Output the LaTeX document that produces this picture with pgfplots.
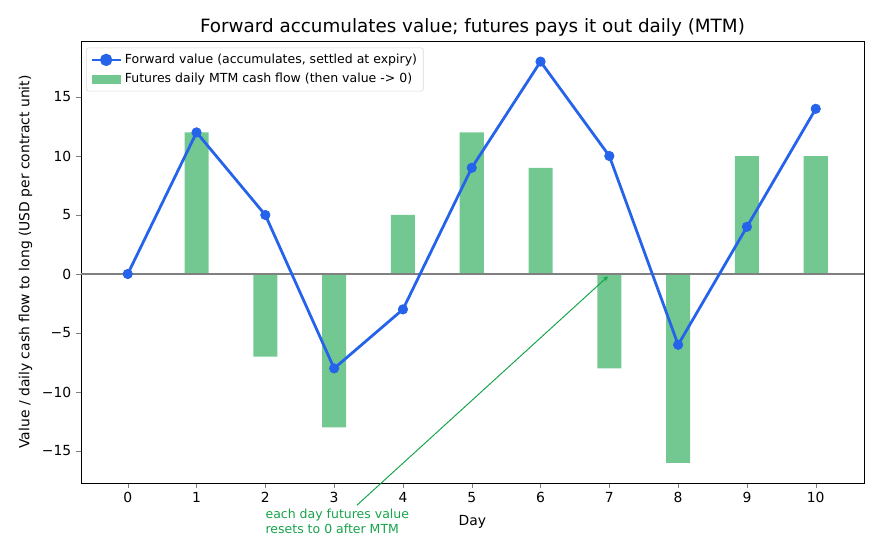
\documentclass[border=0pt]{standalone}
\usepackage{fontspec}
\setmainfont{DejaVu Sans}
\usepackage{pgfplots}
\pgfplotsset{compat=1.18}
\usetikzlibrary{calc}

\definecolor{fwdblue}{RGB}{37,99,235}
\definecolor{mtmgreen}{RGB}{22,163,74}
\definecolor{barfill}{RGB}{115,200,146}

\begin{document}
\begin{tikzpicture}
\begin{axis}[
    name=ax,
    scale only axis,
    width=563.8pt, height=318.2pt,
    xmin=-0.68, xmax=10.7,
    ymin=-17.7, ymax=19.75,
    xtick={0,1,2,3,4,5,6,7,8,9,10},
    ytick={-15,-10,-5,0,5,10,15},
    yticklabels={−15,−10,−5,0,5,10,15},
    /pgf/number format/assume math mode=true,
    tick label style={font=\fontsize{10}{12}\selectfont},
    tick align=outside,
    tick pos=left,
    major tick length=3.5pt,
    xlabel={Day},
    ylabel={Value / daily cash flow to long (USD per contract unit)},
    label style={font=\fontsize{10}{12}\selectfont},
    xlabel style={yshift=-2pt},
    title={Forward accumulates value; futures pays it out daily (MTM)},
    title style={font=\fontsize{13.2}{15}\selectfont, yshift=-6pt},
    clip=false,
    reverse legend,
    legend cell align=left,
    legend style={font=\fontsize{9}{11}\selectfont, draw=black!15, rounded corners=1.5pt,
        at={(0.007,0.985)}, anchor=north west, inner sep=2.5pt, row sep=1.5pt},
]

% futures daily MTM cash flow
\addplot[ybar, bar width=0.35, fill=barfill, draw=none,
    legend image code/.code={\fill[barfill, sharp corners] (0pt,-3.2pt) rectangle (21pt,3.2pt);}]
    coordinates {(1,12)(2,-7)(3,-13)(4,5)(5,12)(6,9)(7,-8)(8,-16)(9,10)(10,10)};
\addlegendentry{Futures daily MTM cash flow (then value -> 0)}

% zero line
\draw[gray, line width=1pt] (axis cs:-0.68,0) -- (axis cs:10.7,0);

% forward value
\addplot[color=fwdblue, line width=2pt, mark=*, mark size=3.4pt,
    mark options={fill=fwdblue, draw=fwdblue, line width=0.5pt},
    legend image code/.code={\draw[sharp corners, line width=2pt] (0pt,0pt) -- (21pt,0pt);
        \fill[fwdblue] (10.5pt,0pt) circle (3.4pt);}]
    coordinates {(0,0)(1,12)(2,5)(3,-8)(4,-3)(5,9)(6,18)(7,10)(8,-6)(9,4)(10,14)};
\addlegendentry{Forward value (accumulates, settled at expiry)}

% annotation
\draw[-stealth, mtmgreen, line width=0.7pt] (axis cs:3.33,-19.6) -- (axis cs:6.98,-0.2);
\node[anchor=north west, align=left, text=mtmgreen, inner sep=0pt,
    font=\fontsize{9}{11}\selectfont] at (axis cs:2.0,-19.9)
    {each day futures value\\resets to 0 after MTM};

\end{axis}
\pgfresetboundingbox
\useasboundingbox ($(ax.south west)+(-58.3pt,-48.2pt)$) rectangle ($(ax.north east)+(11.6pt,29.5pt)$);
\end{tikzpicture}
\end{document}
